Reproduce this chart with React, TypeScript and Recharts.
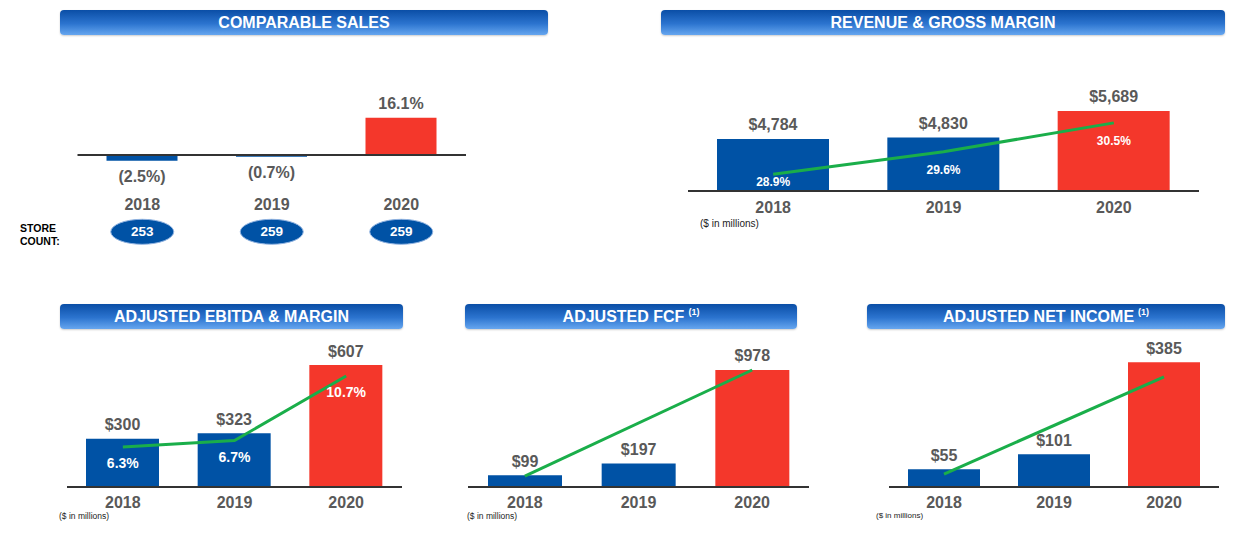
import React from 'react';
import {
    ComposedChart, Bar, Line, XAxis, YAxis, Cell, LabelList, ReferenceLine,
} from 'recharts';

const FONT = '"Liberation Sans", Arial, Helvetica, sans-serif';
const BLUE = '#0052a5';
const RED = '#f4372b';
const GREEN = '#1aae4a';
const GREY = '#595959';

const YEARS = ['2018', '2019', '2020'];
const COMP_SALES = [-2.5, -0.7, 16.1];
const STORE_COUNT = [253, 259, 259];
const REVENUE = [4784, 4830, 5689];
const GROSS_MARGIN = [28.9, 29.6, 30.5];
const EBITDA = [300, 323, 607];
const EBITDA_MARGIN = [6.3, 6.7, 10.7];
const FCF = [99, 197, 978];
const FCF_TREND = [90, null, 978];
const NET_INCOME = [55, 101, 385];
const NET_INCOME_TREND = [40, null, 340];

const rows = (values: number[], line?: (number | null)[]) =>
    YEARS.map((year, i) => ({ year, value: values[i], line: line ? line[i] : null }));

const pct = (v: number) => (v < 0 ? `(${Math.abs(v).toFixed(1)}%)` : `${v.toFixed(1)}%`);
const money = (v: number) => '$' + v.toLocaleString('en-US');

// label props differ a bit between bar / line, so read from viewBox as fallback
const box = (p: any) => {
    const vb = p.viewBox || {};
    return {
        x: Number(p.x ?? vb.x),
        y: Number(p.y ?? vb.y),
        width: Number(p.width ?? vb.width ?? 0),
        height: Number(p.height ?? vb.height ?? 0),
    };
};

const valueLabel = (format: (v: number) => string) => (p: any) => {
    const { x, y, width, height } = box(p);
    const v = Number(p.value);
    const top = Math.min(y, y + height);
    const bottom = Math.max(y, y + height);
    return (
        <text
            x={x + width / 2}
            y={v < 0 ? bottom + 16 : top - 14}
            textAnchor="middle"
            dominantBaseline="central"
            fill={GREY}
            fontWeight="bold"
            fontSize={16}
            fontFamily={FONT}
        >
            {format(v)}
        </text>
    );
};

// margin % sits under the green line, kept clear of the baseline
const marginLabel = (size: number, dy: number, maxY: number) => (p: any) => {
    if (p.value == null) return null;
    const { x, y } = box(p);
    const ty = Math.min(y + dy, maxY);
    return (
        <text
            x={x}
            y={ty}
            textAnchor="middle"
            dominantBaseline="central"
            fill="#fff"
            fontWeight="bold"
            fontSize={size}
            fontFamily={FONT}
        >
            {Number(p.value).toFixed(1)}%
        </text>
    );
};

function YearTick(props: any) {
    const { x, y, payload, index, yearOffset, stores } = props;
    return (
        <g>
            <text
                x={x}
                y={y + yearOffset}
                textAnchor="middle"
                dominantBaseline="central"
                fill={GREY}
                fontWeight="bold"
                fontSize={16}
                fontFamily={FONT}
            >
                {payload.value}
            </text>
            {stores && (
                <g>
                    <ellipse cx={x} cy={y + 67.5} rx={31.5} ry={12.5} fill={BLUE} stroke="#8fb2e0" strokeWidth={1} />
                    <text
                        x={x}
                        y={y + 67.5}
                        textAnchor="middle"
                        dominantBaseline="central"
                        fill="#fff"
                        fontWeight="bold"
                        fontSize={13.5}
                        fontFamily={FONT}
                    >
                        {stores[index]}
                    </text>
                </g>
            )}
        </g>
    );
}

function Header({ left, top, width, title, note }: any) {
    return (
        <div
            style={{
                position: 'absolute',
                left,
                top,
                width,
                height: 25,
                borderRadius: 4,
                background: 'linear-gradient(#0a4ea6 0%, #2c74cf 55%, #66a6ef 100%)',
                boxShadow: '0 1px 2px rgba(0,0,0,0.2)',
                color: '#fff',
                fontFamily: FONT,
                fontWeight: 'bold',
                fontSize: 16,
                display: 'flex',
                alignItems: 'center',
                justifyContent: 'center',
                whiteSpace: 'nowrap',
            }}
        >
            {title}
            {note && <span style={{ fontSize: 9, marginLeft: 4, position: 'relative', top: -5 }}>{note}</span>}
        </div>
    );
}

function Note({ left, top, size }: any) {
    return (
        <div
            style={{
                position: 'absolute',
                left,
                top,
                fontFamily: FONT,
                fontSize: size,
                color: '#222',
                lineHeight: 1,
                whiteSpace: 'nowrap',
            }}
        >
            ($ in millions)
        </div>
    );
}

function MetricChart(props: any) {
    const {
        left, top, width, height, margin, axisHeight, data, domain, lineDomain,
        barSize, format, yearOffset, stores, zeroLine, lineOnBars, marginLabels,
    } = props;
    return (
        <div style={{ position: 'absolute', left, top }}>
            <ComposedChart
                width={width}
                height={height}
                data={data}
                margin={{ top: margin.top, left: margin.left, right: margin.right, bottom: 0 }}
            >
                <XAxis
                    dataKey="year"
                    height={axisHeight}
                    axisLine={zeroLine ? false : { stroke: '#333', strokeWidth: 2 }}
                    tickLine={false}
                    tickSize={0}
                    tickMargin={0}
                    interval={0}
                    tick={(p: any) => <YearTick {...p} yearOffset={yearOffset} stores={stores} />}
                />
                <YAxis yAxisId="v" hide domain={domain} allowDataOverflow />
                {lineDomain && <YAxis yAxisId="m" orientation="right" hide domain={lineDomain} allowDataOverflow />}
                {zeroLine && <ReferenceLine yAxisId="v" y={0} stroke="#333" strokeWidth={2} />}
                <Bar yAxisId="v" dataKey="value" barSize={barSize} isAnimationActive={false}>
                    {data.map((_d: any, i: number) => (
                        <Cell key={`c-${i}`} fill={i === data.length - 1 ? RED : BLUE} />
                    ))}
                    <LabelList dataKey="value" content={valueLabel(format)} />
                </Bar>
                {(lineDomain || lineOnBars) && (
                    <Line
                        yAxisId={lineDomain ? 'm' : 'v'}
                        dataKey="line"
                        type="linear"
                        stroke={GREEN}
                        strokeWidth={3}
                        dot={false}
                        connectNulls
                        isAnimationActive={false}
                    >
                        {marginLabels && <LabelList dataKey="line" content={marginLabels} />}
                    </Line>
                )}
            </ComposedChart>
        </div>
    );
}

export default function App() {
    return (
        <div
            style={{
                position: 'absolute',
                left: 0,
                top: 0,
                width: 1238,
                height: 544,
                background: '#fff',
                overflow: 'hidden',
            }}
        >
            <Header left={60} top={10} width={488} title="COMPARABLE SALES" />
            <Header left={661} top={10} width={564} title="REVENUE & GROSS MARGIN" />
            <Header left={60} top={304} width={343} title="ADJUSTED EBITDA & MARGIN" />
            <Header left={465} top={304} width={332} title="ADJUSTED FCF" note="(1)" />
            <Header left={867} top={304} width={358} title="ADJUSTED NET INCOME" note="(1)" />

            <MetricChart
                left={0}
                top={40}
                width={620}
                height={210}
                margin={{ top: 68.6, left: 77.5, right: 154 }}
                axisHeight={85.7}
                data={rows(COMP_SALES)}
                domain={[-4, 20]}
                barSize={71}
                format={pct}
                yearOffset={40}
                stores={STORE_COUNT}
                zeroLine
            />
            <div
                style={{
                    position: 'absolute',
                    left: 20,
                    top: 222,
                    fontFamily: FONT,
                    fontWeight: 'bold',
                    fontSize: 10.5,
                    lineHeight: '13px',
                    color: '#000',
                }}
            >
                STORE
                <br />
                COUNT:
            </div>

            <MetricChart
                left={620}
                top={40}
                width={618}
                height={200}
                margin={{ top: 52, left: 68, right: 39 }}
                axisHeight={49}
                data={rows(REVENUE, GROSS_MARGIN)}
                domain={[3103, 6303]}
                lineDomain={[28.38, 31.46]}
                barSize={112}
                format={money}
                yearOffset={16}
                marginLabels={marginLabel(12, 18, 142)}
            />
            <Note left={700} top={219} size={10} />

            <MetricChart
                left={0}
                top={335}
                width={420}
                height={209}
                margin={{ top: 7.8, left: 67, right: 18 }}
                axisHeight={57}
                data={rows(EBITDA, EBITDA_MARGIN)}
                domain={[99, 700]}
                lineDomain={[3.82, 12.76]}
                barSize={73}
                format={money}
                yearOffset={15}
                marginLabels={marginLabel(14, 16, 999)}
            />
            <Note left={59} top={512} size={8.5} />

            <MetricChart
                left={420}
                top={335}
                width={420}
                height={209}
                margin={{ top: 20.4, left: 48, right: 31 }}
                axisHeight={57}
                data={rows(FCF, FCF_TREND)}
                domain={[0, 1100]}
                barSize={74}
                format={money}
                yearOffset={15}
                lineOnBars
            />
            <Note left={467} top={512} size={8.5} />

            <MetricChart
                left={840}
                top={335}
                width={398}
                height={209}
                margin={{ top: 12.7, left: 49, right: 19 }}
                axisHeight={57}
                data={rows(NET_INCOME, NET_INCOME_TREND)}
                domain={[0, 430]}
                barSize={72}
                format={money}
                yearOffset={15}
                lineOnBars
            />
            <Note left={876} top={512} size={8} />
        </div>
    );
}
